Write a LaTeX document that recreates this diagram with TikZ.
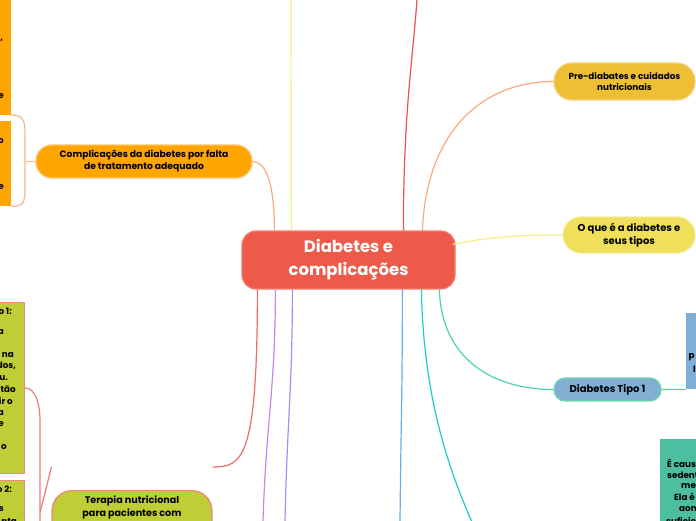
\documentclass[tikz,border=0pt]{standalone}
\usepackage{fontspec}
\setmainfont{Poppins}
\definecolor{cRed}{HTML}{EE5A4A}
\definecolor{cRedB}{HTML}{F47C70}
\definecolor{cGold}{HTML}{ECBF34}
\definecolor{cGoldB}{HTML}{F6D27A}
\definecolor{cYel}{HTML}{F0DF5A}
\definecolor{cYelB}{HTML}{F6EA94}
\definecolor{cBlue}{HTML}{82AED3}
\definecolor{cTealB}{HTML}{6EDBAA}
\definecolor{cOrg}{HTML}{FFA500}
\definecolor{cOrgB}{HTML}{FFC46A}
\definecolor{cOlive}{HTML}{BFCE36}
\definecolor{cPinkB}{HTML}{F48484}
\definecolor{cTeal}{HTML}{4DBE9F}
\definecolor{cBlueBox}{HTML}{80AFD5}
\definecolor{lSalmon}{HTML}{F8AA7A}
\definecolor{lYel}{HTML}{F6EE82}
\definecolor{lRed}{HTML}{EE5050}
\definecolor{lGreen}{HTML}{4CD6A0}
\definecolor{lCyan}{HTML}{22C8D0}
\definecolor{lBlue}{HTML}{62AEF2}
\definecolor{lPurB}{HTML}{9C94F4}
\definecolor{lPur}{HTML}{C288EE}
\definecolor{lRed2}{HTML}{F26A6A}
\definecolor{lBrO}{HTML}{F8B48A}
\definecolor{lBrR}{HTML}{F27A7A}
\tikzset{
  txt/.style={font=\bfseries\fontsize{8.8}{11.5}\selectfont, align=center, inner sep=0pt, text=black},
  bigtxt/.style={font=\bfseries\fontsize{10}{12.5}\selectfont},
  bubble/.style={txt, line width=1.2pt},
  frag/.style={txt, anchor=east},
  conn/.style={line width=1.2pt},
  part/.style={inner sep=0pt, draw=none}
}
\begin{document}
\begin{tikzpicture}[x=1pt,y=-1pt]
\useasboundingbox (0,0) rectangle (696,520);
\fill[white] (0,0) rectangle (696,520);
\clip (0,0) rectangle (696,520);

% free ends
\coordinate (topY) at (291,-1);
\coordinate (topR) at (417,-1);
\coordinate (botP) at (263,522);
\coordinate (botPB) at (285,522);
\coordinate (botB) at (400,522);
\coordinate (botC) at (472,522);

% partial boxes left
\node[part, fill=cOrg, minimum width=22pt, minimum height=135pt, anchor=south east] (boxA) at (11,115) {};
\node[part, fill=cOrg, minimum width=22pt, minimum height=85pt, anchor=north east] (boxB) at (11,121) {};
\node[part, fill=cOlive, draw=cPinkB, line width=1pt, minimum width=40pt, minimum height=171pt, anchor=north east] (boxC) at (25,302) {};
\node[part, fill=cOlive, draw=cPinkB, line width=1pt, minimum width=40pt, minimum height=60pt, anchor=north east] (boxD) at (25,480) {};
% partial boxes right
\node[part, fill=cBlueBox, minimum width=40pt, minimum height=76pt, anchor=north west] (boxE) at (686,313) {};
\node[part, fill=cTeal, minimum width=60pt, minimum height=90pt, anchor=north west] (boxF) at (660,439) {};

% main nodes
\node[bubble, fill=cRed, draw=cRedB, rounded corners=14pt, minimum width=213pt, minimum height=58pt, text=white,
  font=\bfseries\fontsize{16.5}{23}\selectfont] (cen) at (348.5,260) {Diabetes e\\complicações};
\node[bubble, fill=cGold, draw=cGoldB, rounded corners=18pt, minimum width=141pt, minimum height=37pt] (pre) at (624.5,81.5) {Pre-diabates e cuidados\\nutricionais};
\node[bubble, bigtxt, fill=cYel, draw=cYelB, rounded corners=18pt, minimum width=132pt, minimum height=36pt] (oque) at (629,235) {O que é a diabetes e\\seus tipos};
\node[bubble, bigtxt, fill=cBlue, draw=cTealB, rounded corners=11pt, minimum width=107pt, minimum height=23pt] (tipo1) at (607.5,389.5) {Diabetes Tipo 1};
\node[bubble, fill=cOrg, draw=cOrgB, rounded corners=16pt, minimum width=216pt, minimum height=33pt,
  font=\bfseries\fontsize{9.2}{12}\selectfont] (comp) at (144,161.5) {Complicações da diabetes por falta\\de tratamento adequado};
\node[bubble, fill=cOlive, draw=cPinkB, rounded corners=20pt, minimum width=160pt, minimum height=60pt, anchor=north] (tera) at (132,490) {};
\node[txt, font=\bfseries\fontsize{9.6}{13}\selectfont, anchor=north] (teraT) at (132,496) {Terapia nutricional\\para pacientes com};

% fragments
\node[frag] (fa1) at (3,40) {,};
\node[frag] (fa2) at (4,96) {e};
\node[frag] (fb1) at (4,141) {o};
\node[frag] (fb2) at (4,187) {e};
\node[frag] (fc1) at (12,311) {o 1:};
\node[frag] (fc2) at (4,332) {a};
\node[frag] (fc3) at (14,355) {na};
\node[frag] (fc4) at (16,366) {dos,};
\node[frag] (fc5) at (8,378) {u.};
\node[frag] (fc6) at (16,389) {stão};
\node[frag] (fc7) at (13,401) {ir o};
\node[frag] (fc8) at (4,413) {a};
\node[frag] (fc9) at (4,424) {e};
\node[frag] (fc10) at (7,447) {o};
\node[frag] (fd1) at (12,489) {o 2:};
\node[frag] (fd2) at (4,509) {s};
\node[frag] (fd3) at (17,521) {nta};
\node[txt, anchor=west] (fe1) at (688.5,357) {p};
\node[txt, anchor=west] (fe2) at (693,369) {l};
\node[txt, anchor=west] (ff1) at (667,463) {É caus};
\node[txt, anchor=west] (ff2) at (667,475) {sedent};
\node[txt, anchor=west] (ff3) at (681,486) {me};
\node[txt, anchor=west] (ff4) at (674,497) {Ela é};
\node[txt, anchor=west] (ff5) at (679,509) {aonc};
\node[txt, anchor=west] (ff6) at (666,521) {suficie};

% connectors from central node
\draw[conn, lSalmon] ([xshift=33pt]cen.north west) .. controls +(0,-45) and +(14,0) .. (comp.east);
\draw[conn, lYel] ([xshift=50pt]cen.north west) -- (topY);
\draw[conn, lRed] ([xshift=162pt]cen.north west) .. controls +(0,-120) and +(-4,60) .. (topR);
\draw[conn, lSalmon] ([xshift=181pt]cen.north west) .. controls +(4,-100) and +(-70,0) .. (pre.west);
\draw[conn, lYel] ([xshift=-3pt,yshift=-14pt]cen.north east) .. controls +(40,-8) and +(-40,0) .. (oque.west);
\draw[conn, lGreen] ([xshift=198pt]cen.south west) .. controls +(2,70) and +(-60,0) .. (tipo1.west);
\draw[conn, lGreen] (tipo1.east) -- (boxE.south west);
\draw[conn, lCyan] ([xshift=180pt]cen.south west) .. controls +(2,110) and +(-22,-50) .. (botC);
\draw[conn, lBlue] ([xshift=161pt]cen.south west) .. controls +(0,100) and +(1,-100) .. (botB);
\draw[conn, lPurB] ([xshift=51pt]cen.south west) .. controls +(0,100) and +(2,-100) .. (botPB);
\draw[conn, lPur] ([xshift=34pt]cen.south west) .. controls +(0,100) and +(3,-100) .. (botP);
\draw[conn, lRed2] ([xshift=16pt]cen.south west) .. controls +(0,170) and +(30,0) .. ([yshift=23pt]tera.north east);

% brackets
\draw[conn, lBrO] (comp.west) -- (25,161.5);
\draw[conn, lBrO] (boxA.south east) .. controls +(11,0) and +(0,-14) .. (25,133) -- (25,190) .. controls +(0,14) and +(11,0) .. (boxB.south east);
\draw[conn, lBrR] ([yshift=23pt]tera.north west) -- (40,513);
\draw[conn, lBrR] (boxC.east) .. controls +(10,0) and +(0,-20) .. (40,422) -- (40,522);
\end{tikzpicture}
\end{document}
